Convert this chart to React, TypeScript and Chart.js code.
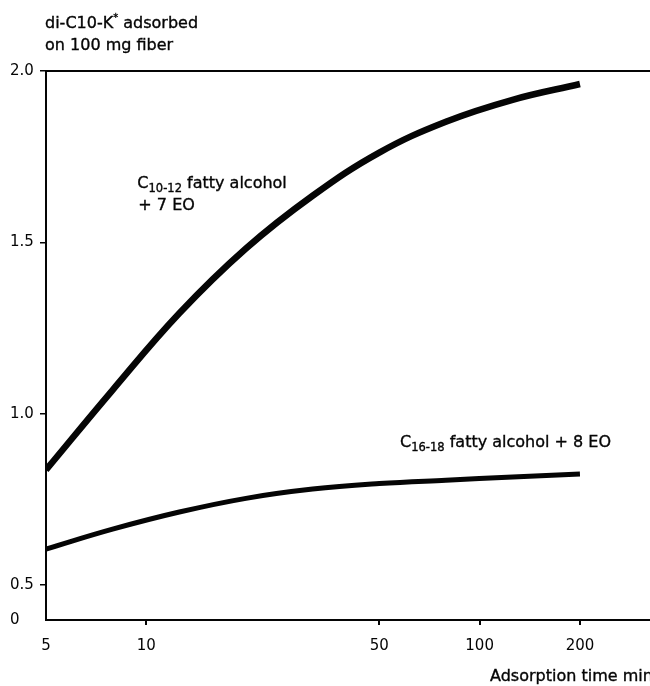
import React, { useEffect, useRef } from 'react';
import { Chart, registerables } from 'chart.js';

Chart.register(...registerables);

// ---- data ----
const times = [5, 7.92, 12.56, 19.9, 31.55, 50, 79.2, 125.6, 200];
const upperValues = [0.836, 1.069, 1.293, 1.482, 1.636, 1.762, 1.852, 1.916, 1.962];
const lowerValues = [0.605, 0.663, 0.713, 0.753, 0.78, 0.796, 0.806, 0.815, 0.824];

const xTicks = [5, 10, 50, 100, 200];
const yTicks = [0.5, 1.0, 1.5, 2.0];
const yBreakValue = 0.398; // bottom of broken axis, labelled "0"
const yBreakLabel = '0';
const xMin = 5;
const xMax = 324.5;
const yMax = 2.0;

const yTitleLines = ['di-C10-K', 'on 100 mg fiber'];
const xTitle = 'Adsorption time min';

const INK = '#050505';
const FONT = "'DejaVu Sans'";

type Run = { text: string; size: number; dy?: number };

const drawRuns = (ctx: CanvasRenderingContext2D, x: number, y: number, runs: Run[]) => {
  let cx = x;
  for (const r of runs) {
    ctx.font = `${r.size}px ${FONT}`;
    ctx.fillText(r.text, cx, y + (r.dy || 0));
    ctx.strokeText(r.text, cx, y + (r.dy || 0));
    cx += ctx.measureText(r.text).width;
  }
};

const textPlugin = {
  id: 'annotText',
  afterDraw(chart: any) {
    const { ctx, chartArea, scales } = chart;
    const sx = scales.x;
    const sy = scales.y;
    ctx.save();
    ctx.fillStyle = INK;
    ctx.strokeStyle = INK;
    ctx.lineWidth = 0.35;
    ctx.textAlign = 'left';
    ctx.textBaseline = 'alphabetic';

    // y-axis title
    drawRuns(ctx, chartArea.left - 1, chartArea.top - 43, [
      { text: yTitleLines[0], size: 16 },
      { text: '*', size: 10, dy: -7 },
      { text: ' adsorbed', size: 16 },
    ]);
    drawRuns(ctx, chartArea.left - 1, chartArea.top - 21, [{ text: yTitleLines[1], size: 16 }]);

    // upper curve label
    const ux = sx.getPixelForValue(9.4);
    const uy = sy.getPixelForValue(1.659);
    drawRuns(ctx, ux, uy, [
      { text: 'C', size: 16 },
      { text: '10-12', size: 11.5, dy: 4 },
      { text: ' fatty alcohol', size: 16 },
    ]);
    drawRuns(ctx, ux + 1, uy + 22, [{ text: '+ 7 EO', size: 16 }]);

    // lower curve label
    const lx = sx.getPixelForValue(57.7);
    const ly = sy.getPixelForValue(0.903);
    drawRuns(ctx, lx, ly, [
      { text: 'C', size: 16 },
      { text: '16-18', size: 11.5, dy: 4 },
      { text: ' fatty alcohol + 8 EO', size: 16 },
    ]);

    // x-axis title
    drawRuns(ctx, chartArea.right - 160, chartArea.bottom + 61, [{ text: xTitle, size: 16 }]);
    ctx.restore();
  },
};

export default function App() {
  const ref = useRef<HTMLCanvasElement>(null);

  useEffect(() => {
    if (!ref.current) return;
    const chart = new Chart(ref.current, {
      type: 'line',
      data: {
        datasets: [
          {
            label: 'C10-12 fatty alcohol + 7 EO',
            data: times.map((t, i) => ({ x: t, y: upperValues[i] })),
            borderColor: INK,
            borderWidth: 6.5,
            pointRadius: 0,
            fill: false,
            tension: 0.4,
          },
          {
            label: 'C16-18 fatty alcohol + 8 EO',
            data: times.map((t, i) => ({ x: t, y: lowerValues[i] })),
            borderColor: INK,
            borderWidth: 5,
            pointRadius: 0,
            fill: false,
            tension: 0.4,
          },
        ],
      },
      options: {
        responsive: false,
        animation: false,
        devicePixelRatio: 1,
        layout: { padding: { left: 10, top: 71, right: 0, bottom: 0 } },
        plugins: {
          legend: { display: false },
          tooltip: { enabled: false },
          title: { display: false },
        },
        scales: {
          x: {
            type: 'logarithmic',
            position: 'bottom',
            min: xMin,
            max: xMax,
            afterBuildTicks: (scale: any) => {
              scale.ticks = xTicks.map((v) => ({ value: v }));
            },
            afterFit: (scale: any) => {
              scale.height = 66;
            },
            ticks: {
              autoSkip: false,
              maxRotation: 0,
              padding: 12,
              color: INK,
              font: { family: FONT, size: 15 },
              callback: (v: any) => String(v),
            },
            grid: {
              display: true,
              drawOnChartArea: false,
              drawTicks: true,
              tickLength: 5,
              lineWidth: 2,
              color: (c: any) => (c.index === 0 ? 'rgba(0,0,0,0)' : INK),
            },
            border: { display: true, color: INK, width: 2 },
          },
          x2: {
            type: 'logarithmic',
            position: 'top',
            min: xMin,
            max: xMax,
            afterFit: (scale: any) => {
              scale.height = 0;
            },
            ticks: { display: false },
            grid: { display: false, drawTicks: false },
            border: { display: true, color: INK, width: 2 },
          },
          y: {
            type: 'linear',
            position: 'left',
            min: yBreakValue,
            max: yMax,
            afterBuildTicks: (scale: any) => {
              scale.ticks = [yBreakValue, ...yTicks].map((v) => ({ value: v }));
            },
            afterFit: (scale: any) => {
              scale.width = 36;
            },
            ticks: {
              autoSkip: false,
              crossAlign: 'far',
              color: INK,
              font: { family: FONT, size: 15 },
              callback: (v: any) => (v < 0.45 ? yBreakLabel : Number(v).toFixed(1)),
            },
            grid: {
              display: true,
              drawOnChartArea: false,
              drawTicks: true,
              tickLength: 6,
              lineWidth: 1.5,
              color: (c: any) => (c.index === 0 ? 'rgba(0,0,0,0)' : INK),
            },
            border: { display: true, color: INK, width: 2 },
          },
        },
      } as any,
      plugins: [textPlugin],
    });
    return () => chart.destroy();
  }, []);

  return (
    <div style={{ position: 'fixed', left: 0, top: 0, width: 650, height: 686, background: '#fff', overflow: 'hidden' }}>
      <canvas ref={ref} width={650} height={686} style={{ display: 'block' }} />
    </div>
  );
}
